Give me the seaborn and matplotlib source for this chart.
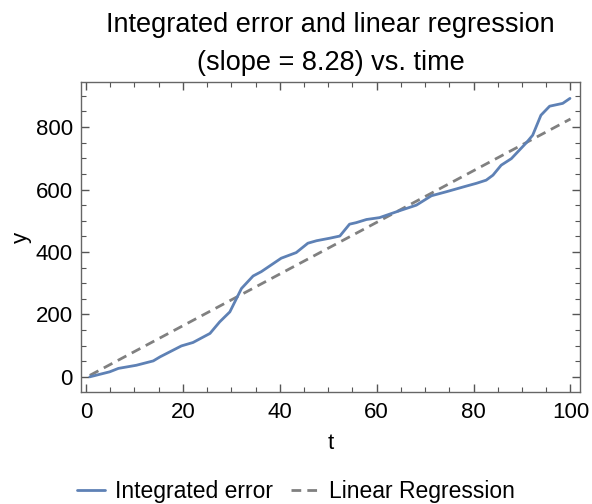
import numpy as np
import pandas as pd
import seaborn as sns
import matplotlib.pyplot as plt
from matplotlib.ticker import MultipleLocator

t_vals = [0.8, 4.9, 6.7, 10.4, 13.9, 15.3, 19.7, 22.1, 25.6, 27.6, 29.7, 32.1, 34.5,
          36.2, 40.3, 43.4, 45.8, 47.6, 50.3, 52.4, 54.4, 55.8, 57.9, 60.6, 64.7,
          68.2, 71.3, 74.4, 78.5, 80.6, 82.6, 84.0, 85.7, 87.8, 90.9, 92.2, 93.9,
          95.7, 98.4, 99.9]
err_vals = [0, 16, 27, 37, 51, 64, 99, 110, 139, 176, 208, 283, 323,
            337, 380, 398, 428, 436, 444, 451, 489, 494, 504, 510, 532,
            550, 580, 593, 611, 620, 630, 646, 678, 699, 750, 774, 838,
            867, 876, 892]
slope = 8.28
intercept = -2.0
reg_t = [0.8, 100.0]

sns.set_theme(style="ticks")
plt.rcParams['font.family'] = ['Liberation Sans', 'DejaVu Sans']
plt.rcParams['text.color'] = 'black'
plt.rcParams['axes.labelcolor'] = 'black'

df = pd.DataFrame({"t": t_vals, "y": err_vals})
reg = pd.DataFrame({"t": reg_t, "y": [slope * x + intercept for x in reg_t]})

fig, ax = plt.subplots(figsize=(5.92, 5.04), dpi=100)
sns.lineplot(data=reg, x="t", y="y", ax=ax, color="#808080", lw=2,
             linestyle=(0, (3.5, 2.2)), label="Linear Regression", zorder=2)
sns.lineplot(data=df, x="t", y="y", ax=ax, color="#5E81B5", lw=2,
             label="Integrated error", zorder=3)

ax.set_xlim(-1, 102)
ax.set_ylim(-49, 944)
ax.xaxis.set_major_locator(MultipleLocator(20))
ax.xaxis.set_minor_locator(MultipleLocator(5))
ax.yaxis.set_major_locator(MultipleLocator(200))
ax.yaxis.set_minor_locator(MultipleLocator(50))
ax.tick_params(which='both', direction='in', top=True, right=True,
               color='#555555', labelsize=16, labelcolor='black')
ax.tick_params(which='major', length=6, width=1)
ax.tick_params(which='minor', length=3.5, width=0.8)
ax.tick_params(axis='x', which='major', pad=7)
ax.tick_params(axis='y', which='major', pad=6)
for s in ax.spines.values():
    s.set_color('#666666')
    s.set_linewidth(1.0)

ax.set_xlabel("t", fontsize=16, labelpad=7)
ax.set_ylabel("y", fontsize=16, labelpad=3)
ax.set_title("Integrated error and linear regression\n(slope = 8.28) vs. time",
             fontsize=19.5, linespacing=1.6, pad=9, color='black')

h, l = ax.get_legend_handles_labels()
ax.get_legend().remove()
order = [1, 0]
fig.legend([h[i] for i in order], [l[i] for i in order], loc='upper center',
           bbox_to_anchor=(0.5, 0.066), ncol=2, frameon=False, fontsize=16.5,
           handlelength=1.2, columnspacing=0.8, handletextpad=0.45,
           borderaxespad=0, borderpad=0.4)

fig.subplots_adjust(left=0.137, right=0.98, top=0.837, bottom=0.222)
fig.savefig("out.png", dpi=100)
